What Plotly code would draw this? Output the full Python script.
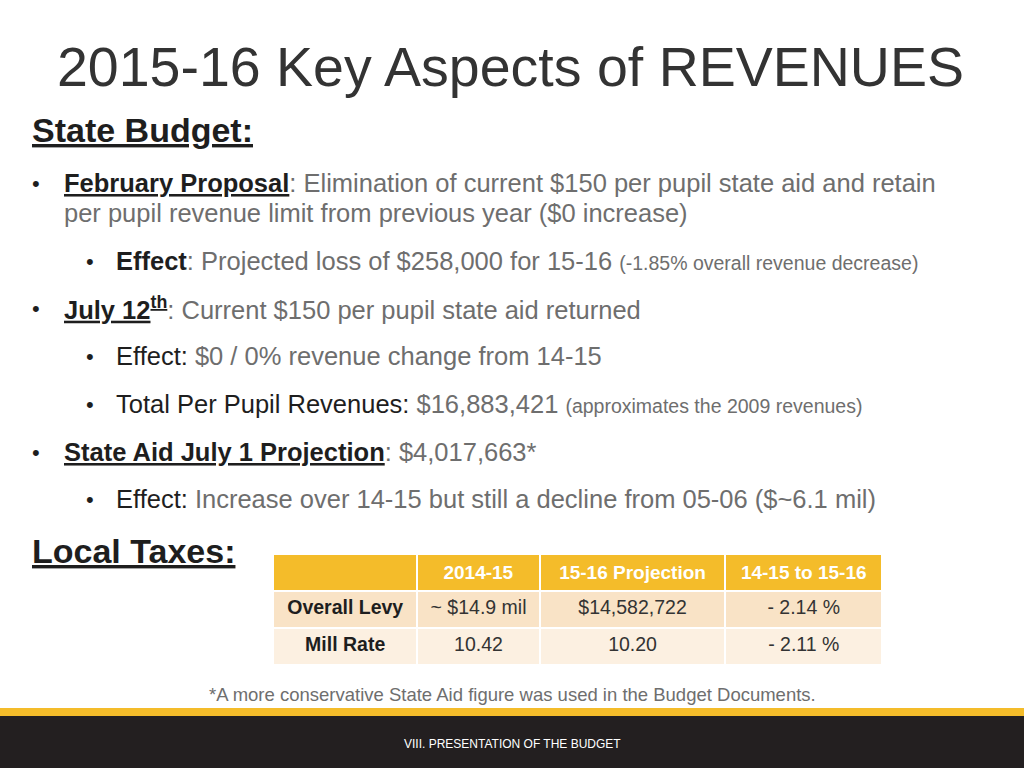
import plotly.graph_objects as go

title = "2015-16 Key Aspects of REVENUES"
section1 = "State Budget:"
section2 = "Local Taxes:"

table_header = ["", "2014-15", "15-16 Projection", "14-15 to 15-16"]
row_labels = ["Overall Levy", "Mill Rate"]
col_2014 = ["~ $14.9 mil", "10.42"]
col_proj = ["$14,582,722", "10.20"]
col_change = ["- 2.14 %", "- 2.11 %"]

footnote = "*A more conservative State Aid figure was used in the Budget Documents."
footer = "VIII. PRESENTATION OF THE BUDGET"

GRAY = "#6e6e6e"
DARK = "#1e1e1e"
GOLD = "#F4BC2A"
FONT = "Liberation Sans, Arial, sans-serif"
SMALL = 19.5
MAIN = 25.5

def lab(t):
    return '<span style="color:' + DARK + '">' + t + '</span>'

def small(t):
    return '<span style="font-size:' + str(SMALL) + 'px">' + t + '</span>'

fig = go.Figure()

fig.add_trace(go.Table(
    domain=dict(x=[273/1024, 882/1024], y=[1-664/768, 1-554/768]),
    columnwidth=[143, 121, 184, 155],
    header=dict(
        values=["<b>" + h + "</b>" for h in table_header],
        fill_color=GOLD,
        line=dict(color="white", width=2),
        font=dict(color="white", size=19, family=FONT),
        align="center",
        height=34,
    ),
    cells=dict(
        values=[row_labels, col_2014, col_proj, col_change],
        fill_color=[["#F9E3C6", "#FCF0E1"]] * 4,
        line=dict(color="white", width=2),
        font=dict(color=[DARK, "#333333", "#333333", "#333333"], size=19.5, family=FONT,
                  weight=["bold", "normal", "normal", "normal"]),
        align="center",
        height=37,
    ),
))

fig.update_layout(
    width=1024, height=768,
    margin=dict(l=0, r=0, t=0, b=0),
    paper_bgcolor="white", plot_bgcolor="white",
    xaxis=dict(range=[0, 1024], visible=False, fixedrange=True),
    yaxis=dict(range=[768, 0], visible=False, fixedrange=True),
    showlegend=False,
)

def txt(x, y, text, size, color=GRAY, anchor="left", family=FONT):
    fig.add_annotation(x=x, y=y, xref="x", yref="y", text=text, showarrow=False,
                       xanchor=anchor, yanchor="middle",
                       font=dict(size=size, color=color, family=family))

# footer shapes
fig.add_shape(type="rect", x0=0, x1=1024, y0=708, y1=717, xref="x", yref="y",
              fillcolor=GOLD, line=dict(width=0), layer="below")
fig.add_shape(type="rect", x0=0, x1=1024, y0=716, y1=768, xref="x", yref="y",
              fillcolor="#231F20", line=dict(width=0), layer="below")

txt(55, 67, title, 55.5, color="#333333")
txt(30, 130, "<b><u>" + section1 + "</u></b>", 34, color=DARK)

bul = "\u2022"
BS = 22
txt(30, 183, bul, BS, color=DARK)
txt(62, 183, lab("<b><u>February Proposal</u></b>") + ": Elimination of current $150 per pupil state aid and retain", MAIN)
txt(62, 213, "per pupil revenue limit from previous year ($0 increase)", MAIN)

txt(84, 261, bul, BS, color=DARK)
txt(114, 261, lab("<b>Effect</b>") + ": Projected loss of $258,000 for 15-16 " + small("(-1.85% overall revenue decrease)"), MAIN)

txt(30, 308, bul, BS, color=DARK)
txt(62, 308, lab("<b><u>July 12<sup>th</sup></u></b>") + ": Current $150 per pupil state aid returned", MAIN)

txt(84, 356, bul, BS, color=DARK)
txt(114, 356, lab("Effect:") + " $0 / 0% revenue change from 14-15", MAIN)

txt(84, 404, bul, BS, color=DARK)
txt(114, 404, lab("Total Per Pupil Revenues:") + " $16,883,421 " + small("(approximates the 2009 revenues)"), MAIN)

txt(30, 452, bul, BS, color=DARK)
txt(62, 452, lab("<b><u>State Aid July 1 Projection</u></b>") + ": $4,017,663*", MAIN)

txt(84, 499, bul, BS, color=DARK)
txt(114, 499, lab("Effect:") + " Increase over 14-15 but still a decline from 05-06 ($~6.1 mil)", MAIN)

txt(30, 551, "<b><u>" + section2 + "</u></b>", 34, color=DARK)

txt(512, 694, footnote, 18.5, anchor="center")
txt(512, 744, footer, 12, color="white", anchor="center")

fig.write_html("out.html", config={"displayModeBar": False},
               post_script="document.body.style.margin='0px';")
